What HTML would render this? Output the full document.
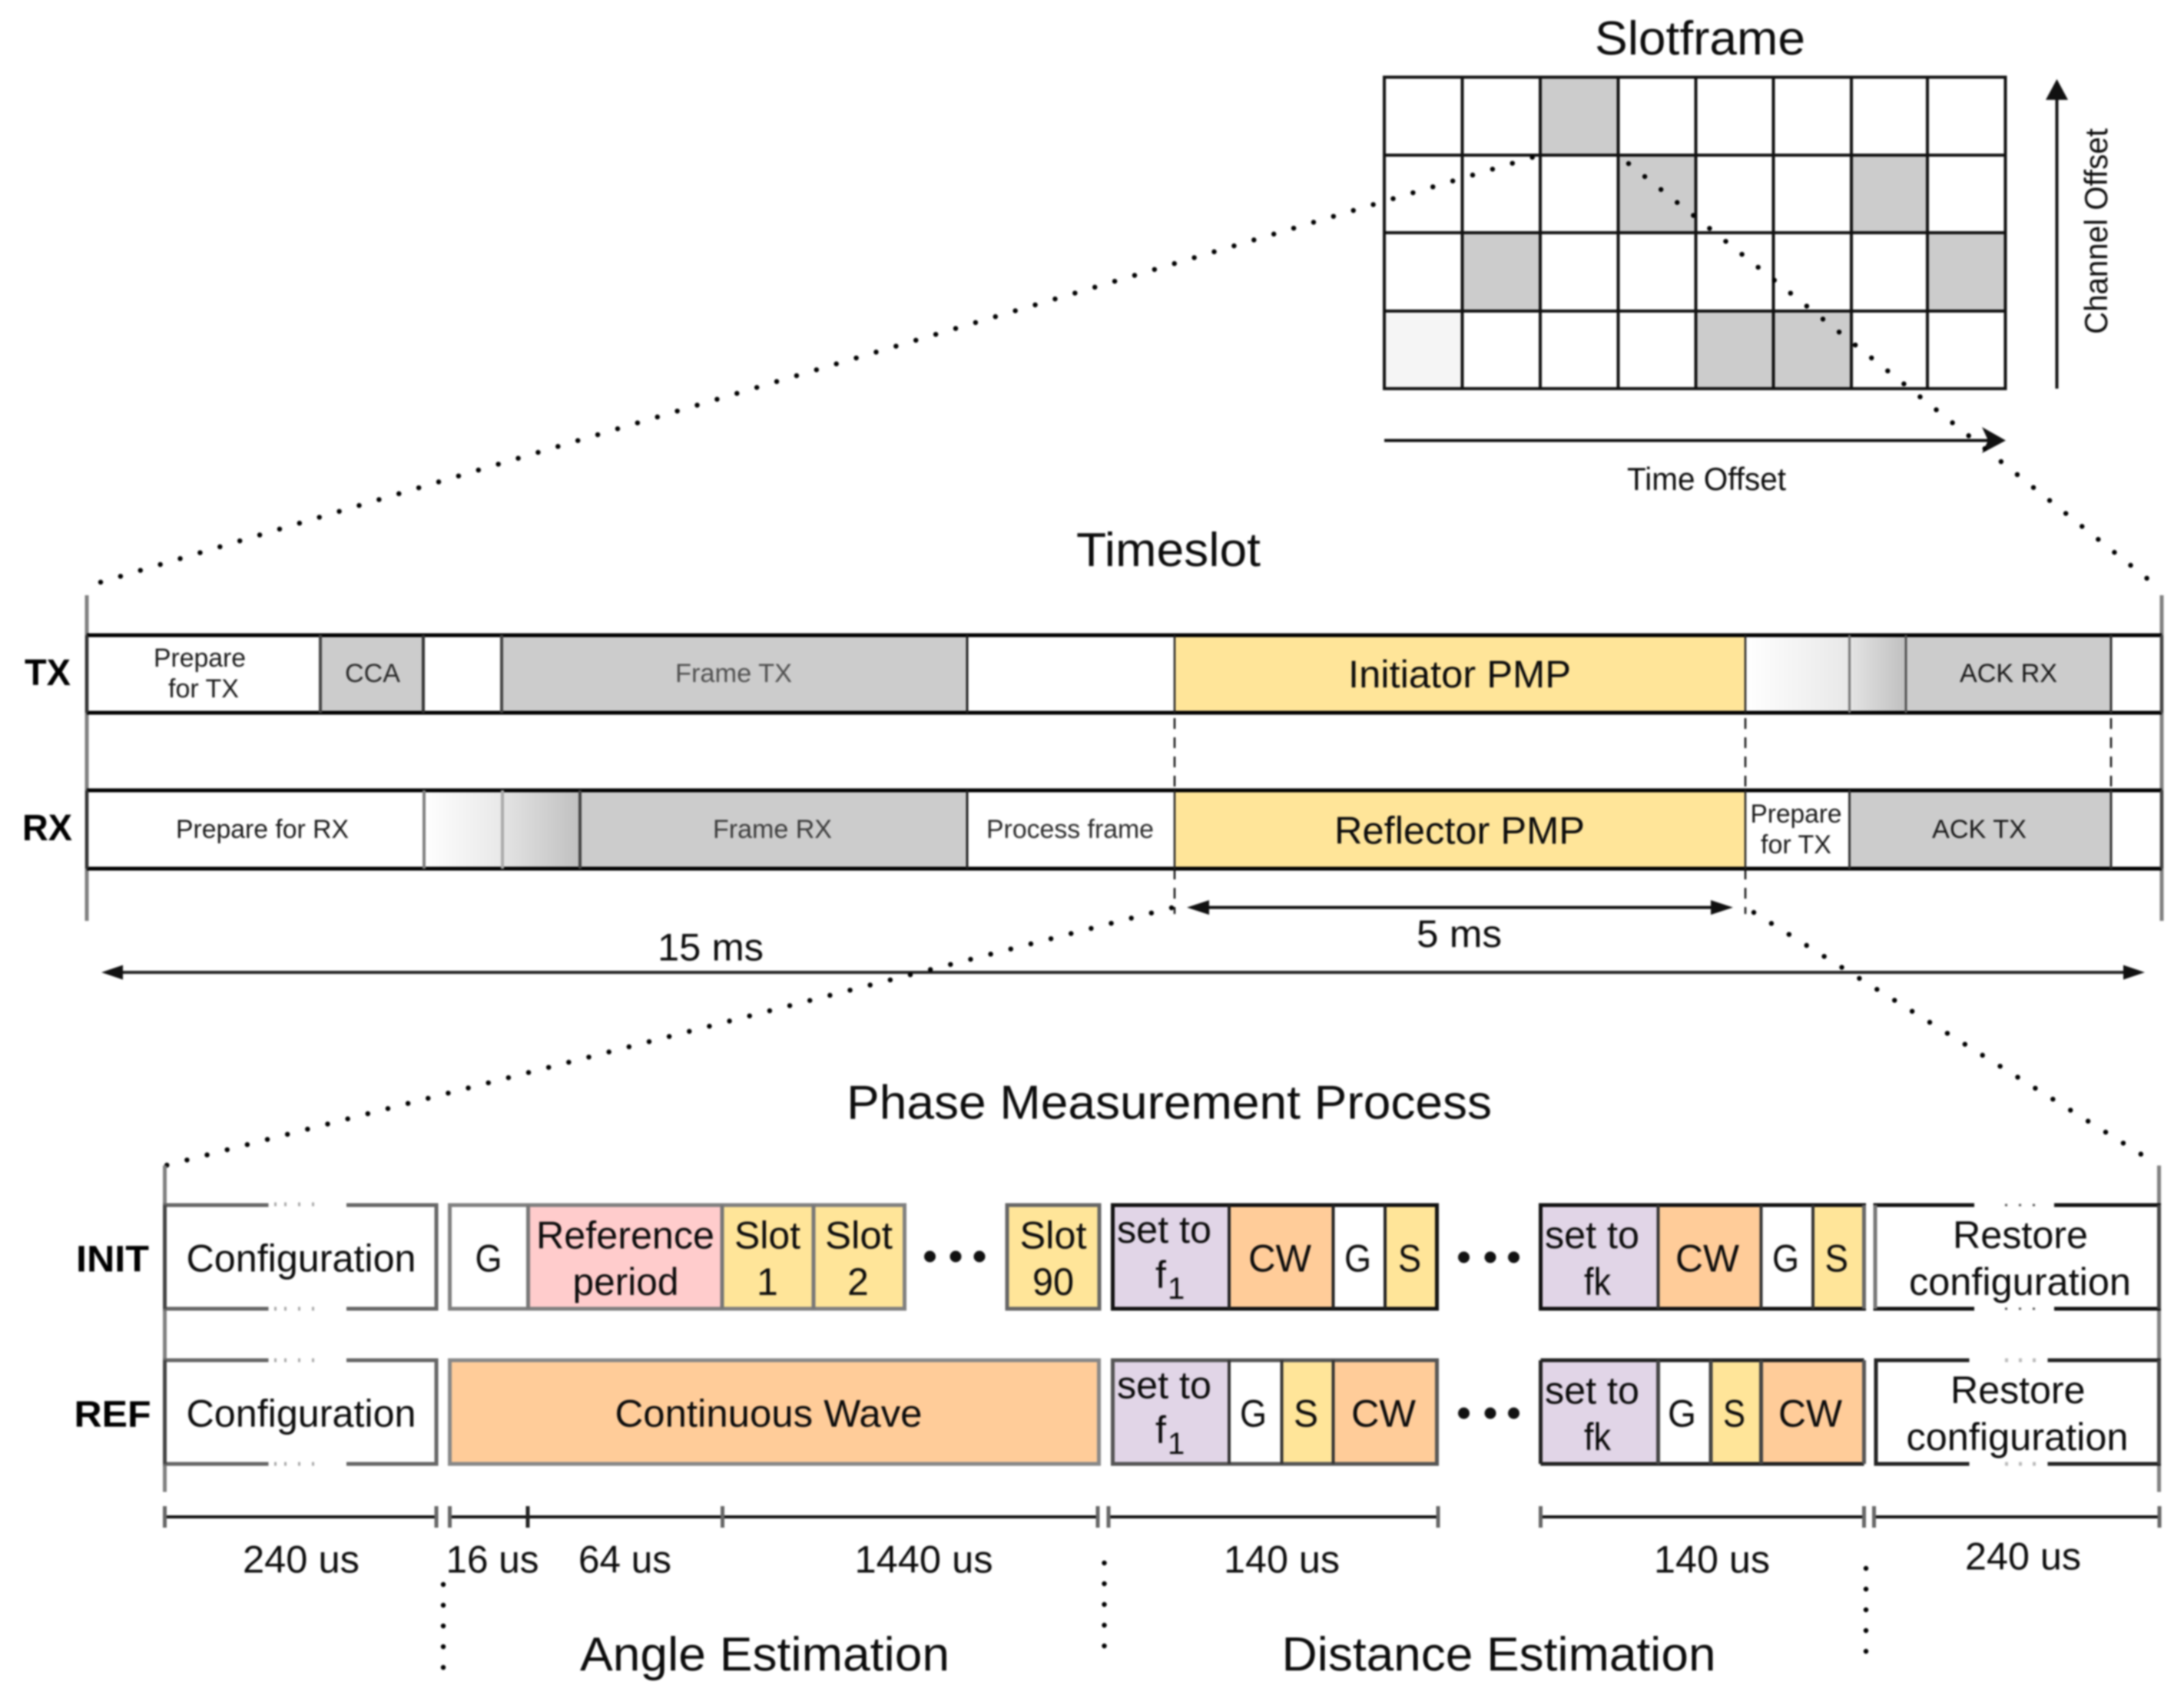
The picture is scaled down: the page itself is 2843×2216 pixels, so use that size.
<!DOCTYPE html>
<html><head><meta charset="utf-8"><style>
html,body{margin:0;padding:0;background:#fff;width:2843px;height:2216px;overflow:hidden}
svg{display:block;filter:blur(1.1px)}
text{font-family:"Liberation Sans",sans-serif;fill:#0c0c0c;font-size:50px}
.t{font-size:62px}.s{font-size:34px;fill:#1a1a1a}.m{font-size:42px}.b{font-weight:bold;font-size:48px;fill:#000}
.dot{stroke:#000;stroke-width:6.5;stroke-linecap:round;stroke-dasharray:0 27;fill:none}
.dash{stroke:#111;stroke-width:2.5;stroke-dasharray:14 11;fill:none}
</style></head><body>
<svg xmlns="http://www.w3.org/2000/svg" width="2843" height="2216" viewBox="0 0 2843 2216">
<defs>
<linearGradient id="g1"><stop offset="0" stop-color="#fff"/><stop offset="1" stop-color="#e8e8e8"/></linearGradient>
<linearGradient id="g2"><stop offset="0" stop-color="#e4e4e4"/><stop offset="1" stop-color="#c0c0c0"/></linearGradient>
</defs>
<rect width="2843" height="2216" fill="#fff"/>

<!-- Slotframe -->
<text class="t" x="2076" y="71" textLength="274" lengthAdjust="spacingAndGlyphs">Slotframe</text>
<g fill="#ccc">
<rect x="2005" y="100" width="101" height="102"/>
<rect x="2106" y="202" width="101" height="101"/>
<rect x="2410" y="202" width="99" height="101"/>
<rect x="1903" y="303" width="102" height="102"/>
<rect x="2509" y="303" width="102" height="102"/>
<rect x="2207" y="405" width="202" height="101"/>
</g>
<rect x="1802" y="405" width="101" height="101" fill="#f5f5f5"/>
<g stroke="#111" stroke-width="4" fill="none">
<rect x="1802" y="100.5" width="808.5" height="405.5"/>
<path d="M1802 202H2610M1802 303H2610M1802 405H2610"/>
<path d="M1903.5 100V506M2005 100V506M2106.5 100V506M2207.5 100V506M2308.5 100V506M2410 100V506M2509 100V506"/>
</g>
<path d="M2677.5 506V120" stroke="#111" stroke-width="4"/>
<path d="M2677.5 103L2692 130H2663Z" fill="#111"/>
<path d="M1802 573.5H2596" stroke="#111" stroke-width="4"/>
<path d="M2611 573.5L2580 590L2588 573.5L2580 556Z" fill="#111"/>
<text class="m" x="2118" y="638" textLength="207" lengthAdjust="spacingAndGlyphs">Time Offset</text>
<text class="m" transform="translate(2743,435) rotate(-90)" textLength="268" lengthAdjust="spacingAndGlyphs">Channel Offset</text>
<path class="dot" d="M131 758L2001 203"/>
<path class="dot" d="M2120 213L2801 758"/>

<!-- Timeslot -->
<text class="t" x="1401" y="737" textLength="240" lengthAdjust="spacingAndGlyphs">Timeslot</text>
<text class="b" x="32" y="892" textLength="60" lengthAdjust="spacingAndGlyphs">TX</text>
<text class="b" x="29" y="1094" textLength="65" lengthAdjust="spacingAndGlyphs">RX</text>
<g fill="#ccc">
<rect x="417" y="827" width="134" height="101"/>
<rect x="653" y="827" width="606" height="101"/>
<rect x="2481" y="827" width="267" height="101"/>
<rect x="755" y="1029" width="504" height="102"/>
<rect x="2407" y="1029" width="341" height="102"/>
</g>
<rect x="1529" y="827" width="743" height="101" fill="#ffe599"/>
<rect x="1529" y="1029" width="743" height="102" fill="#ffe599"/>
<rect x="2272" y="827" width="135" height="101" fill="url(#g1)"/>
<rect x="2407" y="827" width="74" height="101" fill="url(#g2)"/>
<rect x="552" y="1029" width="102" height="102" fill="url(#g1)"/>
<rect x="654" y="1029" width="101" height="102" fill="url(#g2)"/>
<path d="M113 775V1199M2814 775V1199" stroke="#808080" stroke-width="5" fill="none"/>
<path d="M113 827H2814M113 928H2814M113 1029H2814M113 1131H2814" stroke="#000" stroke-width="5" fill="none"/>
<g fill="none" stroke-width="4">
<path d="M113 827V928M113 1029V1131" stroke="#333"/>
<path d="M417 827V928M653 827V928" stroke="#444"/>
<path d="M551 827V928" stroke="#333"/>
<path d="M552 1029V1131" stroke="#808080"/>
<path d="M654 1029V1131" stroke="#aaa"/>
<path d="M755 1029V1131" stroke="#444"/>
<path d="M1259 827V928M1259 1029V1131" stroke="#222" stroke-width="3"/>
<path d="M1529 827V928M1529 1029V1131M2272 827V928M2272 1029V1131" stroke="#222" stroke-width="2.5"/>
<path d="M2407.5 827V928" stroke="#777" stroke-width="3"/>
<path d="M2407.5 1029V1131" stroke="#333" stroke-width="3"/>
<path d="M2481 827V928" stroke="#555" stroke-width="3"/>
<path d="M2748 827V928M2748 1029V1131" stroke="#333" stroke-width="3"/>
<path d="M2814 827V928M2814 1029V1131" stroke="#444"/>
</g>
<path class="dash" d="M1529 935V1029M2272 935V1029M2748 935V1029M1529 1131V1190M2272 1131V1190"/>
<text class="s" x="200" y="868" textLength="120" lengthAdjust="spacingAndGlyphs">Prepare</text>
<text class="s" x="219" y="908" textLength="92" lengthAdjust="spacingAndGlyphs">for TX</text>
<text class="s" x="449" y="888" textLength="72" lengthAdjust="spacingAndGlyphs" style="fill:#2a2a2a">CCA</text>
<text class="s" x="879" y="888" textLength="152" lengthAdjust="spacingAndGlyphs" style="fill:#505050">Frame TX</text>
<text x="1755" y="895" textLength="290" lengthAdjust="spacingAndGlyphs">Initiator PMP</text>
<text class="s" x="2551" y="888" textLength="127" lengthAdjust="spacingAndGlyphs">ACK RX</text>
<text class="s" x="229" y="1091" textLength="225" lengthAdjust="spacingAndGlyphs">Prepare for RX</text>
<text class="s" x="928" y="1091" textLength="155" lengthAdjust="spacingAndGlyphs" style="fill:#3c3c3c">Frame RX</text>
<text class="s" x="1284" y="1091" textLength="218" lengthAdjust="spacingAndGlyphs" style="fill:#2a2a2a">Process frame</text>
<text x="1737" y="1098.5" textLength="326" lengthAdjust="spacingAndGlyphs">Reflector PMP</text>
<text class="s" x="2278.5" y="1071" textLength="119" lengthAdjust="spacingAndGlyphs">Prepare</text>
<text class="s" x="2292" y="1111" textLength="92" lengthAdjust="spacingAndGlyphs">for TX</text>
<text class="s" x="2515" y="1091" textLength="123" lengthAdjust="spacingAndGlyphs">ACK TX</text>

<path d="M1568 1181.5H2234" stroke="#111" stroke-width="4"/>
<path d="M1545 1181.5L1574 1172V1191Z M2256 1181.5L2227 1172V1191Z" fill="#111"/>
<text x="1844" y="1233" textLength="111" lengthAdjust="spacingAndGlyphs">5 ms</text>
<text x="856" y="1250.5" textLength="138" lengthAdjust="spacingAndGlyphs">15 ms</text>
<path d="M155 1266H2770" stroke="#222" stroke-width="4"/>
<path d="M132 1266L160 1256.5V1275.5Z M2792 1266L2764 1256.5V1275.5Z" fill="#111"/>
<path class="dot" d="M1525 1182L215.5 1517.5"/>
<path class="dot" d="M2283 1188L2809 1516.5"/>

<!-- PMP -->
<text class="t" x="1102" y="1456.5" textLength="840" lengthAdjust="spacingAndGlyphs">Phase Measurement Process</text>
<text class="b" x="99" y="1655.5" textLength="95" lengthAdjust="spacingAndGlyphs">INIT</text>
<text class="b" x="96.5" y="1857.5" textLength="100" lengthAdjust="spacingAndGlyphs">REF</text>

<rect x="585.5" y="1569" width="102" height="135" fill="#fff"/>
<rect x="687.5" y="1569" width="253" height="135" fill="#ffcccc"/>
<rect x="940" y="1569" width="237" height="135" fill="#ffe599"/>
<rect x="1311" y="1569" width="120" height="135" fill="#ffe599"/>
<rect x="1448.5" y="1569" width="152" height="135" fill="#e1d5e7"/>
<rect x="1600" y="1569" width="135.5" height="135" fill="#ffcc99"/>
<rect x="1803" y="1569" width="68" height="135" fill="#ffe599"/>
<rect x="2005.5" y="1569" width="153" height="135" fill="#e1d5e7"/>
<rect x="2158.5" y="1569" width="134" height="135" fill="#ffcc99"/>
<rect x="2360" y="1569" width="66.5" height="135" fill="#ffe599"/>

<rect x="585.5" y="1771" width="845" height="135" fill="#ffcc99"/>
<rect x="1448.5" y="1771" width="152" height="135" fill="#e1d5e7"/>
<rect x="1668.5" y="1771" width="67" height="135" fill="#ffe599"/>
<rect x="1735.5" y="1771" width="135" height="135" fill="#ffcc99"/>
<rect x="2005.5" y="1771" width="153" height="135" fill="#e1d5e7"/>
<rect x="2227" y="1771" width="65.5" height="135" fill="#ffe599"/>
<rect x="2292.5" y="1771" width="134" height="135" fill="#ffcc99"/>

<path d="M214.5 1517.5V1942.5M2810.5 1517.5V1942.5" stroke="#808080" stroke-width="5" fill="none"/>
<g fill="none" stroke-width="5">
<!-- config boxes -->
<path d="M349.5 1569H214.5V1704H349.5M451 1569H568V1704H451" stroke="#666"/>
<path d="M349.5 1771H214.5V1906H349.5M451 1771H568V1906H451" stroke="#666"/>
<path d="M214.5 1569V1704M214.5 1771V1906" stroke="#444"/>
<path d="M357 1568h3M370 1568h3M388 1568h3M406 1568h3M357 1704h3M370 1704h3M388 1704h3M406 1704h3M357 1771h3M370 1771h3M388 1771h3M406 1771h3M357 1906h3M370 1906h3M388 1906h3M406 1906h3" stroke="#aaa"/>
<!-- init left -->
<path d="M585.5 1569H1177.5V1704H585.5Z" stroke="#808080"/>
<path d="M687.5 1569V1704M940 1569V1704M1059 1569V1704" stroke="#777"/>
<rect x="1311" y="1569" width="120" height="135" stroke="#666"/>
<!-- init set-to -->
<rect x="1448.5" y="1569" width="422" height="135" stroke="#111"/>
<path d="M1600 1569V1704M1735.5 1569V1704M1803 1569V1704" stroke="#222" stroke-width="4"/>
<rect x="2005.5" y="1569" width="421" height="135" stroke="#111"/>
<path d="M2158.5 1569V1704M2292.5 1569V1704M2360 1569V1704" stroke="#333" stroke-width="4"/>
<path d="M2426.5 1569V1704" stroke="#666"/>
<!-- restore -->
<path d="M2570 1569H2441V1704H2570M2674 1569H2810.5V1704H2674" stroke="#111"/>
<path d="M2441 1569V1704" stroke="#777"/>
<path d="M2610 1569h3M2628 1569h3M2646 1569h3M2610 1704h3M2628 1704h3M2646 1704h3" stroke="#555" stroke-width="3"/>
<!-- ref -->
<rect x="585.5" y="1771" width="845" height="135" stroke="#888"/>
<rect x="1448.5" y="1771" width="422" height="135" stroke="#555"/>
<path d="M1600 1771V1906M1668.5 1771V1906M1735.5 1771V1906" stroke="#333" stroke-width="4"/>
<path d="M2005.5 1771H2426.5M2005.5 1906H2426.5" stroke="#222"/>
<path d="M2005.5 1771V1906" stroke="#222"/>
<path d="M2426.5 1771V1906" stroke="#555"/>
<path d="M2158.5 1771V1906M2227 1771V1906M2292.5 1771V1906" stroke="#444"/>
<path d="M2563.5 1771H2442V1906H2563.5M2665.5 1771H2810.5V1906H2665.5" stroke="#222"/>
<path d="M2610 1771h4M2628 1771h4M2646 1771h4M2610 1906h4M2628 1906h4M2646 1906h4" stroke="#bbb"/>
<path d="M2810.5 1569V1704M2810.5 1771V1906" stroke="#444"/>
</g>

<text x="242.5" y="1655.5" textLength="299" lengthAdjust="spacingAndGlyphs">Configuration</text>
<text x="242.5" y="1857.5" textLength="299" lengthAdjust="spacingAndGlyphs">Configuration</text>
<text x="618.5" y="1655.5" textLength="35" lengthAdjust="spacingAndGlyphs">G</text>
<text x="698" y="1625.5" textLength="232" lengthAdjust="spacingAndGlyphs">Reference</text>
<text x="745.5" y="1686" textLength="138" lengthAdjust="spacingAndGlyphs">period</text>
<text x="956" y="1625.5" textLength="86" lengthAdjust="spacingAndGlyphs">Slot</text>
<text x="985" y="1686">1</text>
<text x="1074" y="1625.5" textLength="88" lengthAdjust="spacingAndGlyphs">Slot</text>
<text x="1103" y="1686">2</text>
<text x="1327.5" y="1625.5" textLength="87" lengthAdjust="spacingAndGlyphs">Slot</text>
<text x="1344" y="1686" textLength="54" lengthAdjust="spacingAndGlyphs">90</text>
<g fill="#111">
<circle cx="1210.5" cy="1636" r="7.5"/><circle cx="1244" cy="1636" r="7.5"/><circle cx="1275" cy="1636" r="7.5"/>
<circle cx="1905.5" cy="1637" r="7.5"/><circle cx="1940" cy="1637" r="7.5"/><circle cx="1970.5" cy="1637" r="7.5"/>
<circle cx="1905.5" cy="1840" r="7.5"/><circle cx="1940" cy="1840" r="7.5"/><circle cx="1970.5" cy="1840" r="7.5"/>
</g>

<text x="1454" y="1618" textLength="123" lengthAdjust="spacingAndGlyphs">set to</text>
<text x="1504" y="1677">f</text><text x="1520" y="1691" style="font-size:40px">1</text>
<text x="1625" y="1655.5" textLength="82" lengthAdjust="spacingAndGlyphs">CW</text>
<text x="1750" y="1655.5" textLength="35" lengthAdjust="spacingAndGlyphs">G</text>
<text x="1820" y="1655.5" textLength="30" lengthAdjust="spacingAndGlyphs">S</text>

<text x="2011" y="1625" textLength="123" lengthAdjust="spacingAndGlyphs">set to</text>
<text x="2062" y="1686" textLength="35" lengthAdjust="spacingAndGlyphs">fk</text>
<text x="2181" y="1655.5" textLength="83" lengthAdjust="spacingAndGlyphs">CW</text>
<text x="2307" y="1655.5" textLength="35" lengthAdjust="spacingAndGlyphs">G</text>
<text x="2375.5" y="1655.5" textLength="30.5" lengthAdjust="spacingAndGlyphs">S</text>
<text x="2542" y="1625" textLength="176" lengthAdjust="spacingAndGlyphs">Restore</text>
<text x="2485" y="1686" textLength="289" lengthAdjust="spacingAndGlyphs">configuration</text>

<text x="800.5" y="1857.5" textLength="400" lengthAdjust="spacingAndGlyphs">Continuous Wave</text>
<text x="1454" y="1820.5" textLength="123" lengthAdjust="spacingAndGlyphs">set to</text>
<text x="1504" y="1879">f</text><text x="1520" y="1893" style="font-size:40px">1</text>
<text x="1614" y="1857.5" textLength="35" lengthAdjust="spacingAndGlyphs">G</text>
<text x="1684" y="1857.5" textLength="32" lengthAdjust="spacingAndGlyphs">S</text>
<text x="1759" y="1857.5" textLength="84" lengthAdjust="spacingAndGlyphs">CW</text>

<text x="2011" y="1827.5" textLength="123" lengthAdjust="spacingAndGlyphs">set to</text>
<text x="2062" y="1888" textLength="35" lengthAdjust="spacingAndGlyphs">fk</text>
<text x="2171" y="1857.5" textLength="37" lengthAdjust="spacingAndGlyphs">G</text>
<text x="2243" y="1857.5" textLength="29" lengthAdjust="spacingAndGlyphs">S</text>
<text x="2315" y="1857.5" textLength="83" lengthAdjust="spacingAndGlyphs">CW</text>
<text x="2539" y="1827" textLength="175.5" lengthAdjust="spacingAndGlyphs">Restore</text>
<text x="2481.5" y="1888" textLength="289" lengthAdjust="spacingAndGlyphs">configuration</text>

<!-- scale -->
<path d="M214 1975H568M585 1975H1429M1443 1975H1872M2006 1975H2426M2439 1975H2811" stroke="#111" stroke-width="4" fill="none"/>
<path d="M214.5 1961V1989M568 1961V1989M585.5 1961V1989M940.5 1961V1989M1429 1961V1989M1443 1961V1989M1872 1961V1989M2005.5 1961V1989M2426.5 1961V1989M2439.5 1961V1989M2811 1961V1989" stroke="#666" stroke-width="5" fill="none"/>
<path d="M687 1961V1989" stroke="#222" stroke-width="5"/>
<text x="316" y="2047.5" textLength="152" lengthAdjust="spacingAndGlyphs">240 us</text>
<text x="580.5" y="2047.5" textLength="121" lengthAdjust="spacingAndGlyphs">16 us</text>
<text x="753" y="2047.5" textLength="121" lengthAdjust="spacingAndGlyphs">64 us</text>
<text x="1112.5" y="2047.5" textLength="180" lengthAdjust="spacingAndGlyphs">1440 us</text>
<text x="1593" y="2047.5" textLength="151" lengthAdjust="spacingAndGlyphs">140 us</text>
<text x="2153" y="2047.5" textLength="151" lengthAdjust="spacingAndGlyphs">140 us</text>
<text x="2558" y="2043.5" textLength="151" lengthAdjust="spacingAndGlyphs">240 us</text>
<path class="dot" d="M577 2063V2175"/>
<path class="dot" d="M1437.5 2035V2148"/>
<path class="dot" d="M2429 2042V2155"/>
<text class="t" x="755" y="2175" textLength="481" lengthAdjust="spacingAndGlyphs">Angle Estimation</text>
<text class="t" x="1668.5" y="2175" textLength="565" lengthAdjust="spacingAndGlyphs">Distance Estimation</text>
</svg>
</body></html>
